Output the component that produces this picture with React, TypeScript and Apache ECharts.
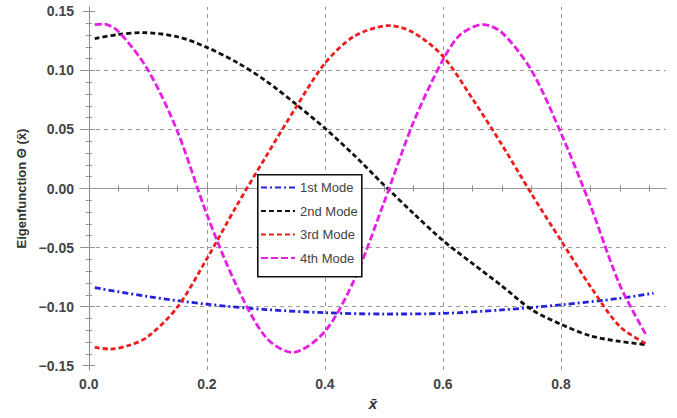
import React, { useEffect, useRef } from "react";
import * as echarts from "echarts";

const xs1 = [0.01, 0.1, 0.2, 0.3, 0.4, 0.5, 0.6, 0.7, 0.8, 0.9, 0.957];
const mode1 = [-0.084, -0.0915, -0.098, -0.1025, -0.1052, -0.1063, -0.1058, -0.1028, -0.0985, -0.093, -0.0887];
const xs2 = [0.01, 0.05, 0.09, 0.15, 0.2, 0.25, 0.3, 0.35, 0.4, 0.45, 0.5, 0.55, 0.6, 0.65, 0.7, 0.75, 0.8, 0.85, 0.9, 0.945];
const mode2 = [0.127, 0.1305, 0.132, 0.1285, 0.1195, 0.107, 0.0912, 0.0718, 0.051, 0.028, 0.003, -0.021, -0.044, -0.0635, -0.0825, -0.1025, -0.115, -0.1248, -0.1295, -0.1323];
const xs3 = [0.01, 0.036, 0.07, 0.1, 0.15, 0.2, 0.25, 0.3, 0.35, 0.4, 0.45, 0.51, 0.55, 0.6, 0.65, 0.7, 0.75, 0.8, 0.85, 0.9, 0.945];
const mode3 = [-0.1346, -0.136, -0.1325, -0.1255, -0.1005, -0.0595, -0.015, 0.027, 0.068, 0.106, 0.129, 0.138, 0.132, 0.112, 0.076, 0.037, -0.0045, -0.044, -0.083, -0.117, -0.1317];
const xs4 = [0.01, 0.025, 0.05, 0.1, 0.15, 0.2, 0.25, 0.3, 0.345, 0.4, 0.45, 0.5, 0.55, 0.6, 0.63, 0.668, 0.7, 0.75, 0.8, 0.85, 0.9, 0.945];
const mode4 = [0.1388, 0.1392, 0.133, 0.1005, 0.0485, -0.022, -0.082, -0.126, -0.1388, -0.121, -0.077, -0.012, 0.056, 0.109, 0.1305, 0.1388, 0.132, 0.1, 0.047, -0.0145, -0.082, -0.1246];

const seriesNames = ["1st Mode", "2nd Mode", "3rd Mode", "4th Mode"];
const seriesColors = ["#2222dd", "#111111", "#ee1c1c", "#e61ee6"];
const seriesDash = [[6, 3, 2, 3], [5, 3], [5, 3], [7, 3]];
const seriesX = [xs1, xs2, xs3, xs4];
const seriesValues = [mode1, mode2, mode3, mode4];

const xMajor = [0, 0.2, 0.4, 0.6, 0.8];
const yMajor = [-0.15, -0.1, -0.05, 0, 0.05, 0.1, 0.15];
const xGrid = [0.2, 0.4, 0.6, 0.8];
const yGrid = [-0.1, -0.05, 0.05, 0.1];

const X_MIN = -0.015, X_MAX = 0.978;
const Y_MIN = -0.1537, Y_MAX = 0.1537;

function minorTicks(step: number, lo: number, hi: number, majorStep: number) {
  const out: number[] = [];
  const n0 = Math.ceil(lo / step), n1 = Math.floor(hi / step);
  const k = Math.round(majorStep / step);
  for (let n = n0; n <= n1; n++) {
    if (n % k !== 0) out.push(+(n * step).toFixed(4));
  }
  return out;
}
const xMinor = minorTicks(0.05, X_MIN, X_MAX, 0.2);
const yMinor = minorTicks(0.01, Y_MIN, Y_MAX, 0.05);

const FONT = "Liberation Sans";
const frameColor = "#8c8c8c";

function xAx(position: string, ticks: number[], len: number, main: boolean) {
  return {
    type: "value",
    position,
    min: X_MIN,
    max: X_MAX,
    axisLine: { show: main, lineStyle: { color: frameColor, width: 1 } },
    axisTick: { show: true, inside: true, length: len, customValues: ticks, lineStyle: { color: frameColor, width: 1 } },
    axisLabel: main && position === "bottom"
      ? { show: true, customValues: xMajor, formatter: (v: number) => v.toFixed(1), color: "#444", fontFamily: FONT, fontWeight: "bold", fontSize: 14, margin: 7 }
      : { show: false },
    splitLine: { show: false },
    name: main && position === "bottom" ? "x\u0304" : "",
    nameLocation: "middle",
    nameGap: 26,
    nameTextStyle: { fontFamily: FONT, fontStyle: "italic", fontWeight: "bold", fontSize: 15, color: "#333" },
  };
}
function yAx(position: string, ticks: number[], len: number, main: boolean) {
  return {
    type: "value",
    position,
    min: Y_MIN,
    max: Y_MAX,
    axisLine: { show: main, lineStyle: { color: frameColor, width: 1 } },
    axisTick: { show: true, inside: true, length: len, customValues: ticks, lineStyle: { color: frameColor, width: 1 } },
    axisLabel: main && position === "left"
      ? { show: true, customValues: yMajor, formatter: (v: number) => (Math.abs(v) < 1e-9 ? "0.00" : (v < 0 ? "\u2212" : "") + Math.abs(v).toFixed(2)), color: "#444", fontFamily: FONT, fontWeight: "bold", fontSize: 14, margin: 6 }
      : { show: false },
    splitLine: { show: false },
    name: main && position === "left" ? "Eigenfunction \u0398 (x\u0304)" : "",
    nameLocation: "middle",
    nameRotate: 90,
    nameGap: 52,
    nameTextStyle: { fontFamily: FONT, fontWeight: "bold", fontSize: 13, color: "#333" },
  };
}

export default function App() {
  const ref = useRef<HTMLDivElement>(null);
  useEffect(() => {
    if (!ref.current) return;
    const chart = echarts.init(ref.current, undefined, { renderer: "svg" });
    const gridLineStyle = { color: "#999", type: [4, 4], width: 1 };
    const series = seriesNames.map((name, i) => ({
      name,
      type: "line",
      xAxisIndex: 0,
      yAxisIndex: 0,
      data: seriesX[i].map((x, j) => [x, seriesValues[i][j]]),
      smooth: 0.3,
      showSymbol: false,
      symbol: "none",
      lineStyle: { color: seriesColors[i], width: 2.8, type: seriesDash[i] },
      itemStyle: { color: seriesColors[i] },
      z: 2,
      ...(i === 0
        ? {
            markLine: {
              silent: true,
              symbol: "none",
              z: 1,
              label: { show: false },
              emphasis: { disabled: true },
              data: [
                ...xGrid.map((v) => ({ xAxis: v, lineStyle: gridLineStyle })),
                ...yGrid.map((v) => ({ yAxis: v, lineStyle: gridLineStyle })),
                { yAxis: 0, lineStyle: { color: "#999", type: "solid", width: 1.2 } },
              ],
            },
          }
        : {}),
    }));
    chart.setOption({
      animation: false,
      backgroundColor: "#ffffff",
      grid: { left: 80, right: 11, top: 7, bottom: 48, containLabel: false },
      xAxis: [xAx("bottom", xMajor, 6, true), xAx("bottom", xMinor, 3, false), xAx("top", xMajor, 6, true), xAx("top", xMinor, 3, false)],
      yAxis: [yAx("left", yMajor, 6, true), yAx("left", yMinor, 3, false), yAx("right", yMajor, 6, true), yAx("right", yMinor, 3, false)],
      graphic: [
        {
          type: "rect",
          left: 257,
          top: 174,
          z: 3,
          silent: true,
          shape: { width: 104, height: 102 },
          style: { fill: "#ffffff", stroke: "#111111", lineWidth: 1.6 },
        },
      ],
      legend: {
        show: true,
        z: 5,
        orient: "vertical",
        left: 258,
        top: 174,
        padding: [7, 6, 7, 2],
        itemGap: 10.5,
        itemWidth: 34,
        itemHeight: 14,
        backgroundColor: "transparent",
        borderWidth: 0,
        itemStyle: { color: "rgba(0,0,0,0)", borderWidth: 0, opacity: 0 },
        textStyle: { fontFamily: FONT, fontSize: 13, color: "#444" },
        data: seriesNames,
      },
      series,
    });
    return () => chart.dispose();
  }, []);
  return <div ref={ref} style={{ position: "fixed", left: 0, top: 0, width: 677, height: 418 }} />;
}
